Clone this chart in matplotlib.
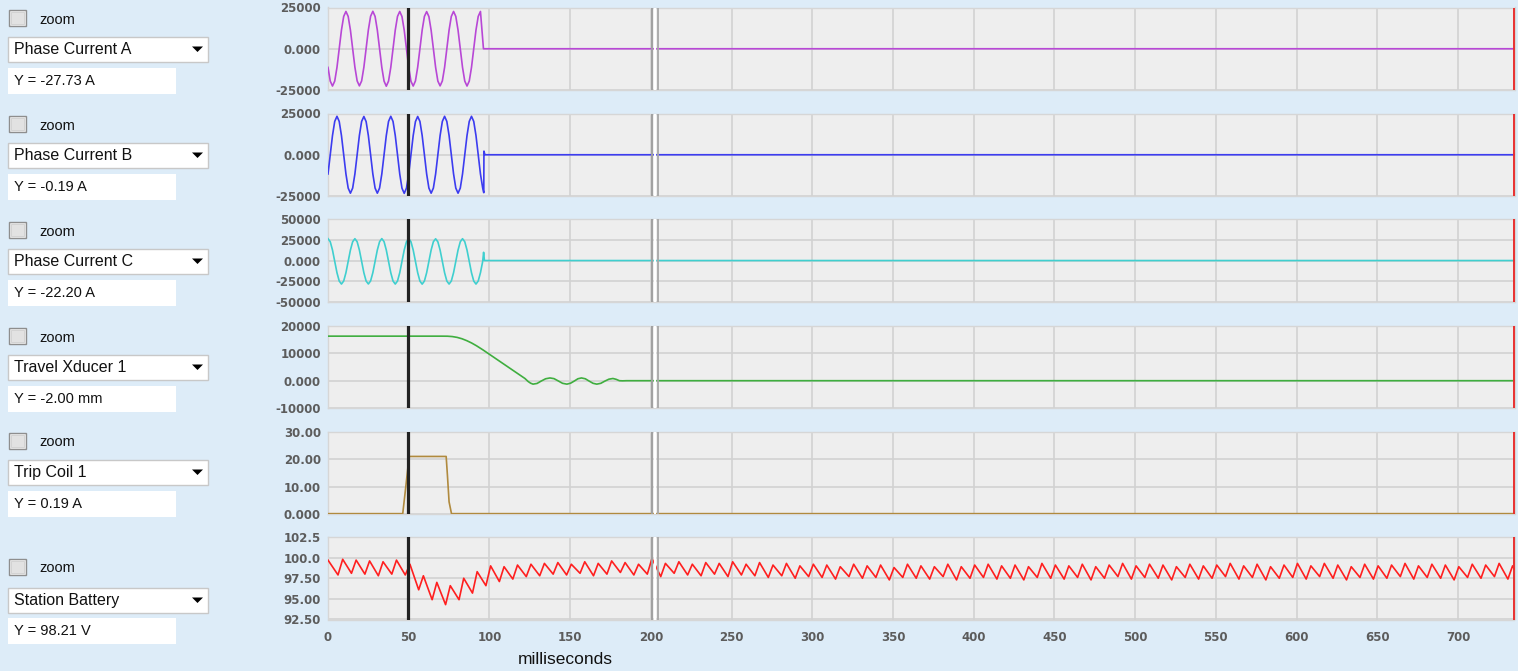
import numpy as np
import matplotlib
matplotlib.use("Agg")
import matplotlib.pyplot as plt
from matplotlib.patches import Rectangle, Polygon

# ---------------- data ----------------
STEP_MS = 1000.0 / 720.0          # sample spacing of the current records (30 deg of 60 Hz)

phase_a = [-11300, -19600, -22600, -19600, -11300, 0, 11300, 19600, 22600, 19600, 11300, 0,
           -11200, -19500, -22500, -19500, -11200, 100, 11400, 19700, 22700, 19600, 11300, 0,
           -11300, -19600, -22700, -19600, -11300, 0, 11300, 19600, 22600, 19500, 11200, -100,
           -11400, -19700, -22600, -19500, -11200, 0, 11300, 19600, 22500, 19500, 11200, 0,
           -11300, -19600, -22500, -19500, -11300, 0, 11300, 19600, 22600, 19600, 11300, 0,
           -11300, -19600, -22600, -19600, -11300, 0, 11300, 19600, 22600]
tail_a_t = [96.3, 735.0]
tail_a_v = [0, 0]

phase_b = [-11650, 0, 11650, 20200, 23300, 20200, 11650, 0, -11650, -20200, -23300, -20200,
           -11600, 50, 11700, 20200, 23200, 20100, 11600, 0, -11650, -20200, -23300, -20200,
           -11650, 0, 11650, 20200, 23300, 20200, 11650, 0, -11700, -20300, -23400, -20200,
           -11600, 0, 11650, 20100, 23200, 20200, 11650, 0, -11650, -20200, -23300, -20200,
           -11650, 0, 11650, 20200, 23300, 20200, 11700, 50, -11600, -20200, -23300, -20200,
           -11650, 0, 11650, 20200, 23300, 20200, 11650, 0, -11650]
tail_b_t = [95.83, 96.5, 96.6, 97.2, 735.0]
tail_b_v = [-20200, -23000, 2200, 0, 0]

phase_c = [26500, 22800, 12750, -1000, -14750, -24800, -28500, -24800, -14750, -1000, 12750, 22800,
           26500, 22800, 12700, -1000, -14800, -24800, -28400, -24700, -14700, -1000, 12750, 22800,
           26600, 22900, 12750, -1000, -14750, -24800, -28500, -24800, -14750, -900, 12800, 22800,
           26500, 22800, 12750, -1000, -14750, -24900, -28600, -24800, -14750, -1000, 12750, 22800,
           26400, 22700, 12700, -1000, -14750, -24800, -28500, -24800, -14700, -1000, 12750, 22800,
           26500, 22800, 12750, -1000, -14750, -24800, -28500, -24800, -14750]
tail_c_t = [95.83, 96.4, 96.9, 735.0]
tail_c_v = [-1000, 10000, 0, 0]

travel_t = [0, 70, 74, 77, 80, 83, 86, 89, 92, 96, 100, 110, 118, 120, 122, 124, 125.5, 127,
            129.5, 132, 134.8, 137.5, 140, 142.7, 145.3, 148, 150.3, 152.5, 154.8, 157, 159.4,
            161.8, 164.2, 166.5, 169, 171.5, 174, 176.5, 178.5, 180.5, 182.5, 185, 735]
travel_v = [16200, 16200, 16180, 16050, 15750, 15250, 14550, 13700, 12700, 11200, 9600, 5600,
            2400, 1600, 800, -300, -900, -1250, -1000, -150, 700, 1000, 750, -100, -950, -1250,
            -900, -150, 700, 1000, 700, -150, -950, -1250, -950, -150, 550, 800, 500, 0, -50, 0, 0]

trip_t = [0, 46.3, 48.0, 50.2, 51.0, 73.2, 74.0, 75.0, 76.5, 735]
trip_v = [0.2, 0.2, 9.0, 20.8, 21.0, 21.0, 14.0, 4.5, 0.2, 0.2]

BAT_FIRST_TROUGH_MS = 6.2
BAT_PERIOD_MS = 8.33
BAT_RISE_MS = 2.9
bat_start = 99.7
bat_end = 98.6
bat_troughs = [97.9, 98.1, 98.0, 97.8, 98.0, 97.9, 96.1, 94.9, 94.3, 94.9, 95.7, 96.6, 97.1, 97.4, 97.7, 97.8,
               98.0, 97.9, 98.1, 97.8, 98.0, 98.2, 97.9, 98.0, 97.7, 98.1, 97.9, 97.8, 98.0, 97.7, 97.9, 97.8,
               97.6, 97.8, 97.5, 97.7, 97.6, 97.4, 97.7, 97.5, 97.6, 97.3, 97.6, 97.5, 97.4, 97.7, 97.3, 97.5,
               97.6, 97.4, 97.5, 97.3, 97.6, 97.5, 97.4, 97.6, 97.3, 97.5, 97.7, 97.4, 97.6, 97.5, 97.3, 97.6,
               97.4, 97.5, 97.7, 97.4, 97.6, 97.3, 97.5, 97.6, 97.4, 97.7, 97.5, 97.3, 97.6, 97.4, 97.5, 97.7,
               97.4, 97.6, 97.5, 97.3, 97.6, 97.5, 97.7, 97.4]
bat_peaks = [99.8, 99.7, 99.6, 99.5, 99.7, 99.2, 97.8, 97.0, 96.6, 97.5, 98.3, 99.0, 98.9, 99.1, 99.2, 99.3,
             99.4, 99.2, 99.5, 99.3, 99.6, 99.4, 99.2, 99.9, 99.3, 99.5, 99.2, 99.4, 99.3, 99.5, 99.2, 99.4,
             99.1, 99.3, 99.0, 99.2, 99.1, 98.9, 99.2, 99.0, 99.1, 98.8, 99.2, 99.0, 98.9, 99.2, 98.9, 99.1,
             99.2, 99.0, 99.1, 98.9, 99.3, 99.1, 99.0, 99.2, 98.9, 99.1, 99.3, 99.0, 99.2, 99.1, 98.9, 99.2,
             99.0, 99.1, 99.3, 99.0, 99.2, 98.9, 99.1, 99.3, 99.0, 99.3, 99.1, 98.9, 99.2, 99.0, 99.1, 99.3,
             99.0, 99.2, 99.1, 98.9, 99.2, 99.1, 99.3, 99.0]

channel_names = ["Phase Current A", "Phase Current B", "Phase Current C",
                 "Travel Xducer 1", "Trip Coil 1", "Station Battery"]
readouts = ["Y = -27.73 A", "Y = -0.19 A", "Y = -22.20 A",
            "Y = -2.00 mm", "Y = 0.19 A", "Y = 98.21 V"]

yt_a = [-25000, 0, 25000];                 yl_a = ["-25000", "0.000", "25000"]
yt_b = [-25000, 0, 25000];                 yl_b = ["-25000", "0.000", "25000"]
yt_c = [-50000, -25000, 0, 25000, 50000];  yl_c = ["-50000", "-25000", "0.000", "25000", "50000"]
yt_t = [-10000, 0, 10000, 20000];          yl_t = ["-10000", "0.000", "10000", "20000"]
yt_k = [0, 10, 20, 30];                    yl_k = ["0.000", "10.00", "20.00", "30.00"]
yt_v = [92.5, 95, 97.5, 100, 102.5];       yl_v = ["92.50", "95.00", "97.50", "100.0", "102.5"]
x_ticks = list(range(0, 701, 50))
x_label = "milliseconds"
cursor_ms = 49.6
ref_cursor_ms = [201.0, 204.5]
X_MAX = 735.0

# ---------------- assemble series ----------------
k = np.arange(len(phase_a))
t_cur = k * STEP_MS
ta = np.concatenate([t_cur, tail_a_t]); va = np.concatenate([phase_a, tail_a_v])
tb = np.concatenate([t_cur, tail_b_t]); vb = np.concatenate([phase_b, tail_b_v])
tc = np.concatenate([t_cur, tail_c_t]); vc = np.concatenate([phase_c, tail_c_v])

nb = len(bat_troughs)
tr_t = BAT_FIRST_TROUGH_MS + np.arange(nb) * BAT_PERIOD_MS
pk_t = tr_t + BAT_RISE_MS
bt = np.concatenate([[0.0], np.column_stack([tr_t, pk_t]).ravel(), [X_MAX]])
bv = np.concatenate([[bat_start], np.column_stack([bat_troughs, bat_peaks]).ravel(), [bat_end]])

series = [
    (ta, va, "#b847d6", (-25000, 25000), yt_a, yl_a),
    (tb, vb, "#3c3cf0", (-25000, 25000), yt_b, yl_b),
    (tc, vc, "#3fcfcf", (-50000, 50000), yt_c, yl_c),
    (np.array(travel_t), np.array(travel_v), "#3fae3f", (-10000, 20000), yt_t, yl_t),
    (np.array(trip_t), np.array(trip_v), "#b08a3e", (0, 30), yt_k, yl_k),
    (bt, bv, "#ff1f1f", (92.5, 102.5), yt_v, yl_v),
]

# ---------------- figure ----------------
W, H, DPI = 1518, 671, 100
BG = "#ddecf8"
fig = plt.figure(figsize=(W / DPI, H / DPI), dpi=DPI, facecolor=BG)

AX_L = 328
AX_W = 1186.5
panel_tops = [7.5, 113.5, 219.3, 325.7, 431.7, 537.0]
panel_h = 82.5
label_font = dict(family="DejaVu Sans", fontsize=8.5, fontweight="bold", color="#5c5c5c")

for i, (t, v, col, ylim, yt, yl) in enumerate(series):
    top = panel_tops[i]
    ax = fig.add_axes([AX_L / W, 1 - (top + panel_h) / H, AX_W / W, panel_h / H])
    ax.set_facecolor("#eeeeee")
    ax.plot(t, v, color=col, lw=1.2, zorder=3)
    ax.set_xlim(0, X_MAX)
    ax.set_ylim(*ylim)
    ax.set_yticks(yt)
    ax.set_yticklabels(yl, **label_font)
    ax.set_xticks(x_ticks)
    if i == len(series) - 1:
        ax.set_xticklabels([str(x) for x in x_ticks], **label_font)
    else:
        ax.set_xticklabels([])
    ax.tick_params(length=0, pad=5)
    ax.tick_params(axis="x", pad=8)
    ax.grid(True, color="#d2d2d2", lw=1.2, zorder=1)
    for s in ax.spines.values():
        s.set_color("#d6d6d6")
        s.set_linewidth(1.0)
    # cursors
    ax.axvline(cursor_ms, color="#222222", lw=2.3, zorder=5)
    ax.axvline(ref_cursor_ms[0], color="#a0a0a0", lw=1.4, zorder=4)
    ax.axvline((ref_cursor_ms[0] + ref_cursor_ms[1]) / 2, color="#ffffff", lw=1.6, zorder=4)
    ax.axvline(ref_cursor_ms[1], color="#a8a8a8", lw=1.3, zorder=4)
    ax.axvline(X_MAX - 0.6, color="#e83030", lw=1.4, zorder=4)

fig.text(565 / W, 1 - 659 / H, x_label, ha="center", va="center",
         family="Liberation Sans", fontsize=12.5, color="#111111")

# ---------------- left control column ----------------
def prect(x0, y0, x1, y1, **kw):
    fig.patches.append(Rectangle((x0 / W, 1 - y1 / H), (x1 - x0) / W, (y1 - y0) / H,
                                 transform=fig.transFigure, **kw))

zoom_y = [19, 125, 231, 337, 442, 568]
dd_y = [49, 155, 261, 367, 472, 600]
ro_y = [81, 187, 293, 399, 504, 631]
ctl_font = dict(family="Liberation Sans", color="#111111")

for i in range(6):
    zy, dy, ry = zoom_y[i], dd_y[i], ro_y[i]
    # checkbox
    prect(8.5, zy - 9, 25.5, zy + 7, facecolor="#f2f2f2", edgecolor="#8e8e8e", lw=1.0)
    prect(10.5, zy - 7, 23.5, zy + 5, facecolor="#e2e2e2", edgecolor="#cfcfcf", lw=0.6)
    fig.text(39 / W, 1 - (zy + 0.5) / H, "zoom", ha="left", va="center", fontsize=10.5, **ctl_font)
    # dropdown
    prect(8, dy - 12.5, 208, dy + 12.5, facecolor="#ffffff", edgecolor="#c8c8c8", lw=1.0)
    fig.text(14 / W, 1 - dy / H, channel_names[i], ha="left", va="center", fontsize=11.5, **ctl_font)
    fig.patches.append(Polygon([[192 / W, 1 - (dy - 2.5) / H], [203 / W, 1 - (dy - 2.5) / H],
                                [197.5 / W, 1 - (dy + 3) / H]], closed=True,
                               transform=fig.transFigure, facecolor="#000000", edgecolor="none"))
    # readout box
    prect(8, ry - 13, 176, ry + 13, facecolor="#ffffff", edgecolor="none")
    fig.text(14 / W, 1 - ry / H, readouts[i], ha="left", va="center", fontsize=10.5, **ctl_font)

fig.savefig("out.png", dpi=DPI, facecolor=BG)
